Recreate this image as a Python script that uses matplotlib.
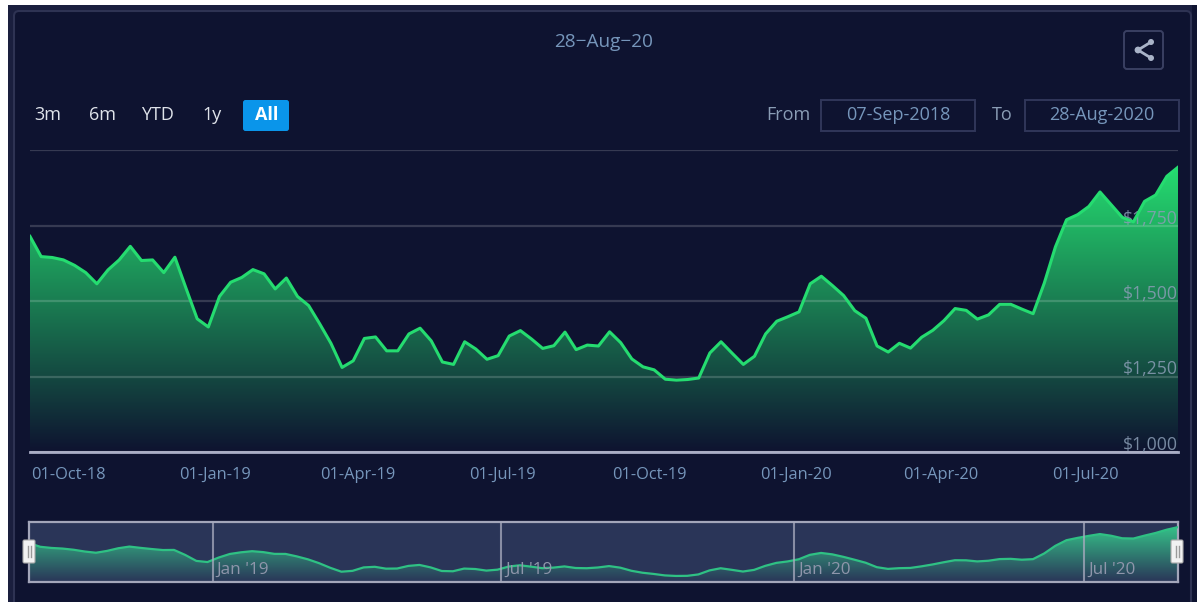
#!/usr/bin/env python3
"""Gold price area chart with navigator, dark dashboard style."""
import matplotlib
matplotlib.use("Agg")
import matplotlib.dates as mdates
import matplotlib.pyplot as plt
from matplotlib.colors import to_rgb
from matplotlib.patches import FancyBboxPatch, Rectangle, Circle
from matplotlib.transforms import offset_copy
import numpy as np
import pandas as pd

W, H = 1197, 602

PANEL = "#0e1330"
BAND = "#1a1f3e"
EDGE = "#2e3353"
LINE = "#25dc70"
TICK = "#7696bb"
MUTED = "#8a9db5"

START = "2018-09-07"
PRICES = [
    1714, 1647, 1644, 1636, 1618, 1594, 1557, 1603, 1636, 1681,
    1634, 1636, 1594, 1645, 1542, 1441, 1414, 1515, 1562, 1578,
    1604, 1590, 1540, 1576, 1515, 1485, 1424, 1360, 1280, 1302,
    1376, 1381, 1335, 1335, 1391, 1410, 1368, 1298, 1290, 1365,
    1341, 1307, 1319, 1384, 1402, 1374, 1343, 1352, 1397, 1339,
    1354, 1351, 1398, 1362, 1308, 1282, 1272, 1241, 1238, 1240,
    1245, 1328, 1365, 1327, 1290, 1317, 1391, 1433, 1448, 1464,
    1557, 1582, 1551, 1518, 1468, 1443, 1351, 1331, 1360, 1344,
    1380, 1403, 1435, 1475, 1469, 1440, 1454, 1489, 1489, 1473,
    1458, 1559, 1679, 1769, 1786, 1813, 1861, 1819, 1777, 1762,
    1830, 1851, 1913, 1943,
]
Y_TICKS = [1000, 1250, 1500, 1750, 2000]
Y_LABELS = ["$1,000", "$1,250", "$1,500", "$1,750", ""]
X_TICKS = ["2018-10-01", "2019-01-01", "2019-04-01", "2019-07-01",
           "2019-10-01", "2020-01-01", "2020-04-01", "2020-07-01"]
X_LABELS = ["01-Oct-18", "01-Jan-19", "01-Apr-19", "01-Jul-19",
            "01-Oct-19", "01-Jan-20", "01-Apr-20", "01-Jul-20"]
NAV_TICKS = ["2019-01-01", "2019-07-01", "2020-01-01", "2020-07-01"]
NAV_LABELS = ["Jan '19", "Jul '19", "Jan '20", "Jul '20"]
RANGE_BUTTONS = ["3m", "6m", "YTD", "1y"]
RANGE_X = [48, 102, 157, 212]

plt.rcParams.update({
    "font.family": ["Open Sans", "DejaVu Sans"],
    "figure.dpi": 100,
})

dates = pd.date_range(START, periods=len(PRICES), freq="7D")
xnum = mdates.date2num(dates)
# the navigator series is drawn a little softer than the main one
nav_prices = np.convolve(PRICES, [0.2, 0.6, 0.2], mode="same")
nav_prices[0], nav_prices[-1] = PRICES[0], PRICES[-1]


def px_axes(fig, x0, y0, x1, y1, **kw):
    """Axes placed by pixel box, y measured from the top of the image."""
    return fig.add_axes([x0 / W, 1 - y1 / H, (x1 - x0) / W, (y1 - y0) / H], **kw)


def gradient(ax, top, bottom, y_top, y_bottom, clip):
    c0, c1 = np.array(to_rgb(top)), np.array(to_rgb(bottom))
    t = np.linspace(0, 1, 256)[:, None, None]
    img = c0 * (1 - t) + c1 * t
    im = ax.imshow(img, aspect="auto", zorder=1, interpolation="bilinear",
                   extent=(xnum[0], xnum[-1], y_bottom, y_top))
    im.set_clip_path(clip, ax.transData)


fig = plt.figure(figsize=(W / 100, H / 100), facecolor="white")

# ---- page background and card
bg = px_axes(fig, 0, 0, W, H)
bg.set_xlim(0, W); bg.set_ylim(H, 0); bg.axis("off")
bg.add_patch(Rectangle((8, 5), W - 8, H - 5, facecolor=BAND, edgecolor="none"))
bg.add_patch(Rectangle((1192, 5), 5, H, facecolor=PANEL, edgecolor="none"))
bg.add_patch(FancyBboxPatch((14, 11), 1177, H + 30,
                            boxstyle="round,pad=0,rounding_size=5",
                            facecolor=PANEL, edgecolor=EDGE, linewidth=1.5))

# ---- main chart
ax = px_axes(fig, 30, 150, 1178, 452)
ax.patch.set_alpha(0)
area = ax.fill_between(xnum, PRICES, 1000, color="none", linewidth=0)
gradient(ax, LINE, PANEL, 1943, 1000, area.get_paths()[0])
ax.plot(xnum, PRICES, color=LINE, linewidth=2.2, zorder=3,
        solid_joinstyle="round")
ax.set_xlim(xnum[0], xnum[-1])
ax.set_ylim(1000, 2000)
ax.set_axisbelow(False)
ax.grid(axis="y", color="white", alpha=0.17, linewidth=1.6)
for s in ("top", "left", "right"):
    ax.spines[s].set_visible(False)
ax.spines["bottom"].set_color("#a9adc6")
ax.spines["bottom"].set_linewidth(2)
ax.set_xticks(mdates.date2num(pd.to_datetime(X_TICKS)), X_LABELS)
ax.set_yticks(Y_TICKS, Y_LABELS)
ax.tick_params(axis="x", length=0, pad=11, labelsize=11.8, labelcolor=TICK)
ax.tick_params(axis="y", length=0, pad=0, labelsize=12.7, labelcolor=MUTED,
               left=False, labelleft=False, right=False, labelright=True)
for t in ax.yaxis.get_major_ticks():
    t.label2.set_ha("right")
    t.label2.set_va("bottom")
    t.label2.set_alpha(0.85)
    t.label2.set_zorder(5)
    t.label2.set_transform(offset_copy(t.label2.get_transform(), fig=fig,
                                       y=-2, units="dots"))

# ---- navigator
nav = px_axes(fig, 29, 522, 1178, 581.7)
nav.set_facecolor("#2a3558")
nav_area = nav.fill_between(xnum, nav_prices, 1156, color="none", linewidth=0)
gradient(nav, "#35c088", "#2a3558", 1943, 1156, nav_area.get_paths()[0])
nav.plot(xnum, nav_prices, color="#2fc184", linewidth=1.6, zorder=3)
nav.set_xlim(xnum[0], xnum[-1])
nav.set_ylim(1156, 2017)
nav.set_yticks([])
nav_x = mdates.date2num(pd.to_datetime(NAV_TICKS))
nav.set_xticks([])
for x, lab in zip(nav_x, NAV_LABELS):
    nav.axvline(x - 0.8, color="#a8abbf", alpha=0.75, linewidth=1.5, zorder=4)
    nav.annotate(lab, (x, 0), xycoords=nav.get_xaxis_transform(),
                 xytext=(2, 3), textcoords="offset points", ha="left",
                 va="bottom", fontsize=12.3, color="#8f96ab", zorder=5)
for s in nav.spines.values():
    s.set_color("#a3a6ba")
    s.set_linewidth(1.6)

# ---- overlay: title, buttons, inputs, share icon, handles
top = px_axes(fig, 0, 0, W, H)
top.set_xlim(0, W); top.set_ylim(H, 0); top.axis("off")
top.patch.set_alpha(0)

top.text(604, 42, "28\u2212Aug\u221220", ha="center", va="center", fontsize=13.7,
         color=TICK)

for lab, x in zip(RANGE_BUTTONS, RANGE_X):
    top.text(x, 114.5, lab, ha="center", va="center", fontsize=13, color="#dfe3ea")
top.add_patch(FancyBboxPatch((243, 100), 46, 31,
                             boxstyle="round,pad=0,rounding_size=2.5",
                             facecolor="#0a95ea", edgecolor="none"))
top.text(267, 114.5, "All", ha="center", va="center", fontsize=13,
         color="white", weight="bold")

top.text(788, 114.5, "From", ha="center", va="center", fontsize=13, color=MUTED)
top.text(1002, 114.5, "To", ha="center", va="center", fontsize=13, color=MUTED)
for x0, txt in ((821, "07-Sep-2018"), (1025, "28-Aug-2020")):
    top.add_patch(Rectangle((x0, 100), 154, 31, facecolor="none",
                            edgecolor="#30365a", linewidth=1.4))
    top.text(x0 + 77, 114.5, txt, ha="center", va="center", fontsize=13, color=TICK)

# share icon
top.add_patch(FancyBboxPatch((1124, 31), 39, 38,
                             boxstyle="round,pad=0,rounding_size=3",
                             facecolor="none", edgecolor="#3a4062", linewidth=1.4))
ic = "#a9b3c8"
top.plot([1151, 1138, 1151], [42, 50, 58], color=ic, linewidth=2, zorder=3)
for cx, cy, r in ((1151, 42, 3), (1138, 50, 3.4), (1151, 58, 3)):
    top.add_patch(Circle((cx, cy), r, facecolor=ic, edgecolor="none", zorder=4))

# navigator handles
for x0 in (23, 1171):
    top.add_patch(FancyBboxPatch((x0, 540), 12, 23,
                                 boxstyle="round,pad=0,rounding_size=1.5",
                                 facecolor="#f2f2f2", edgecolor="#a9a9a9",
                                 linewidth=0.8, zorder=6))
    for dx in (4.5, 7.5):
        top.plot([x0 + dx, x0 + dx], [546, 557], color="#9a9a9a", linewidth=1, zorder=7)

fig.savefig("out.png", dpi=100, facecolor=fig.get_facecolor())
